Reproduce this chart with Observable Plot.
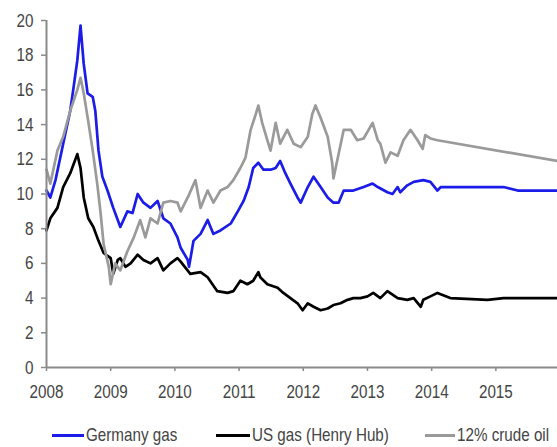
<!DOCTYPE html>
<html>
<head>
<meta charset="utf-8">
<script src="https://cdn.jsdelivr.net/npm/d3@7"></script>
<script src="https://cdn.jsdelivr.net/npm/@observablehq/plot@0.6"></script>
<style>
  body { margin: 0; background: #fff; }
  #wrap { position: relative; width: 557px; height: 447px; overflow: hidden; font-family: "Liberation Sans", Arial, sans-serif; }
  #legend { position: absolute; left: 0; top: 407px; width: 557px; height: 40px; font-size: 19px; color: #444; }
  .item { position: absolute; top: 28px; height: 22px; display: flex; align-items: center; white-space: nowrap; transform: translateY(-50%); }
  .sw { display: inline-block; height: 3px; margin-right: 2px; }
  .lab { display: inline-block; transform: scaleX(0.8); transform-origin: left center; }
</style>
</head>
<body>
<div id="wrap"><div id="chart"></div><div id="legend"></div></div>
<script>
// ---- data (decimal year, value) ----
const seriesNames = ["Germany gas", "US gas (Henry Hub)", "12% crude oil"];
const seriesColors = ["#1c1ce8", "#000000", "#9a9a9a"];

const germanyGas = [
  [2008.00,10.2],[2008.06,9.8],[2008.14,10.8],[2008.26,12.9],[2008.37,14.8],[2008.42,16.1],
  [2008.48,17.7],[2008.53,19.7],[2008.58,17.5],[2008.64,15.8],[2008.72,15.6],[2008.76,14.8],
  [2008.81,12.5],[2008.87,11.0],[2008.95,10.2],[2009.04,9.2],[2009.15,8.1],[2009.26,9.0],
  [2009.34,8.9],[2009.42,10.0],[2009.51,9.5],[2009.62,9.2],[2009.73,9.6],[2009.82,8.6],
  [2009.93,8.3],[2010.04,7.5],[2010.09,6.9],[2010.20,6.2],[2010.22,5.8],[2010.29,7.3],
  [2010.40,7.7],[2010.51,8.5],[2010.60,7.7],[2010.71,7.9],[2010.87,8.3],[2010.98,9.0],
  [2011.07,9.6],[2011.15,10.4],[2011.22,11.5],[2011.30,11.8],[2011.38,11.4],[2011.49,11.4],
  [2011.57,11.5],[2011.64,11.9],[2011.72,11.2],[2011.80,10.6],[2011.91,9.8],[2011.96,9.5],
  [2012.07,10.4],[2012.16,11.0],[2012.27,10.4],[2012.38,9.8],[2012.47,9.5],[2012.55,9.5],
  [2012.63,10.2],[2012.78,10.2],[2012.94,10.4],[2013.08,10.6],[2013.16,10.4],[2013.31,10.1],
  [2013.39,10.0],[2013.47,10.4],[2013.51,10.1],[2013.62,10.5],[2013.72,10.7],[2013.87,10.8],
  [2013.98,10.7],[2014.09,10.2],[2014.14,10.4],[2015.12,10.4],[2015.34,10.2],[2015.96,10.2]
];

const usGas = [
  [2008.00,7.9],[2008.06,8.6],[2008.17,9.2],[2008.26,10.4],[2008.37,11.2],[2008.48,12.3],
  [2008.53,11.5],[2008.58,9.8],[2008.65,8.6],[2008.73,8.1],[2008.81,7.3],[2008.89,6.6],
  [2009.00,6.3],[2009.04,5.4],[2009.11,6.2],[2009.15,6.3],[2009.23,5.8],[2009.31,6.0],
  [2009.42,6.5],[2009.51,6.2],[2009.62,6.0],[2009.73,6.3],[2009.82,5.6],[2009.93,6.0],
  [2010.04,6.3],[2010.09,6.1],[2010.24,5.4],[2010.40,5.5],[2010.51,5.2],[2010.66,4.4],
  [2010.82,4.3],[2010.91,4.4],[2011.02,5.0],[2011.13,4.8],[2011.22,5.0],[2011.30,5.5],
  [2011.33,5.2],[2011.44,4.8],[2011.60,4.6],[2011.69,4.3],[2011.80,4.0],[2011.91,3.7],
  [2011.99,3.3],[2012.07,3.7],[2012.16,3.5],[2012.27,3.3],[2012.38,3.4],[2012.47,3.6],
  [2012.58,3.7],[2012.69,3.9],[2012.78,4.0],[2012.89,4.0],[2013.00,4.1],[2013.09,4.3],
  [2013.20,4.0],[2013.31,4.4],[2013.47,4.0],[2013.62,3.9],[2013.72,4.0],[2013.83,3.5],
  [2013.87,3.9],[2013.98,4.1],[2014.09,4.3],[2014.29,4.0],[2014.87,3.9],[2015.12,4.0],
  [2015.96,4.0]
];

const crudeOil = [
  [2008.00,11.4],[2008.06,10.6],[2008.17,12.5],[2008.26,13.3],[2008.37,14.8],[2008.48,16.0],
  [2008.53,16.7],[2008.58,15.8],[2008.65,14.2],[2008.72,12.5],[2008.79,10.6],[2008.84,9.0],
  [2008.89,7.1],[2008.97,5.8],[2009.00,4.8],[2009.07,6.0],[2009.15,5.6],[2009.26,6.7],
  [2009.36,7.5],[2009.46,8.5],[2009.54,7.5],[2009.62,8.6],[2009.73,8.3],[2009.82,9.5],
  [2009.93,9.6],[2010.04,9.5],[2010.09,9.0],[2010.20,9.8],[2010.32,10.8],[2010.40,9.2],
  [2010.51,10.2],[2010.60,9.5],[2010.71,10.2],[2010.82,10.4],[2010.91,10.8],[2011.02,11.5],
  [2011.10,12.1],[2011.18,13.7],[2011.26,14.6],[2011.30,15.1],[2011.36,14.1],[2011.44,13.1],
  [2011.49,12.5],[2011.57,14.1],[2011.64,12.9],[2011.75,13.7],[2011.85,12.9],[2011.96,12.7],
  [2012.07,13.3],[2012.14,14.6],[2012.19,15.1],[2012.27,14.4],[2012.38,13.3],[2012.45,11.8],
  [2012.47,10.9],[2012.55,12.3],[2012.63,13.7],[2012.74,13.7],[2012.84,13.1],[2012.94,13.2],
  [2013.08,14.1],[2013.16,13.1],[2013.20,12.9],[2013.28,11.8],[2013.36,12.4],[2013.47,12.2],
  [2013.56,13.1],[2013.67,13.7],[2013.78,13.1],[2013.86,12.6],[2013.90,13.4],[2013.98,13.2],
  [2014.09,13.1],[2015.96,11.9]
];

const xTicks = [2008, 2009, 2010, 2011, 2012, 2013, 2014, 2015];
const yTicks = [0, 2, 4, 6, 8, 10, 12, 14, 16, 18, 20];

// ---- build ----
const allSeries = [germanyGas, usGas, crudeOil];
const rows = allSeries.flatMap((s, i) => s.map(([t, v]) => ({t, v, name: seriesNames[i]})));
const axisColor = "#8a8a8a";
const textColor = "#444";

const chart = Plot.plot({
  width: 557,
  height: 407,
  marginLeft: 46,
  marginRight: 0,
  marginTop: 20,
  marginBottom: 40,
  style: {fontFamily: '"Liberation Sans", Arial, sans-serif', fontSize: "19px", color: textColor, background: "#fff"},
  x: {type: "linear", domain: [2008, 2015.96]},
  y: {domain: [0, 20]},
  color: {domain: seriesNames, range: seriesColors},
  marks: [
    Plot.axisY({ticks: yTicks, tickSize: 5, tickPadding: 8, stroke: axisColor, strokeWidth: 1.5, label: null, fill: textColor}),
    Plot.axisX({ticks: xTicks, tickSize: 4, tickPadding: 13, tickFormat: d => String(d), stroke: axisColor, strokeWidth: 1.5, label: null, fill: textColor}),
    Plot.line(rows, {x: "t", y: "v", z: "name", stroke: "name", strokeWidth: 2.7, strokeLinejoin: "round", curve: "linear"}),
    Plot.ruleX([2008], {stroke: axisColor, strokeWidth: 2}),
    Plot.ruleY([0], {stroke: axisColor, strokeWidth: 2})
  ]
});
document.getElementById("chart").appendChild(chart);

// condense tick labels horizontally (narrow face look)
chart.querySelectorAll("text").forEach(t => {
  const w = t.getComputedTextLength();
  if (w > 0) {
    t.setAttribute("textLength", (w * 0.8).toFixed(1));
    t.setAttribute("lengthAdjust", "spacingAndGlyphs");
  }
});

// ---- legend ----
const legendPos = [[52, 32], [216, 34], [425, 30]];
const legend = document.getElementById("legend");
seriesNames.forEach((n, i) => {
  const it = document.createElement("div");
  it.className = "item";
  it.style.left = legendPos[i][0] + "px";
  const sw = document.createElement("span");
  sw.className = "sw";
  sw.style.width = legendPos[i][1] + "px";
  sw.style.background = seriesColors[i];
  const lab = document.createElement("span");
  lab.className = "lab";
  lab.textContent = n;
  it.appendChild(sw);
  it.appendChild(lab);
  legend.appendChild(it);
});
</script>
</body>
</html>
